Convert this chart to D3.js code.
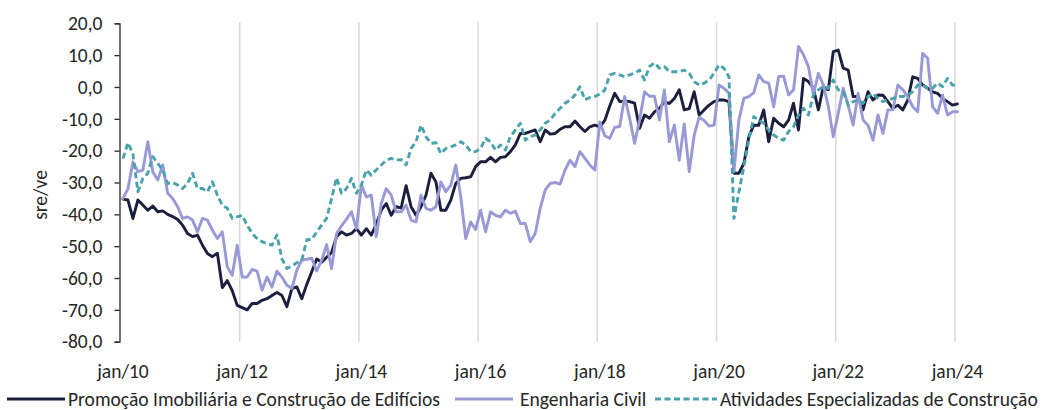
<!DOCTYPE html>
<html>
<head>
<meta charset="utf-8">
<script src="https://cdn.jsdelivr.net/npm/d3@7"></script>
<style>
  html, body { margin: 0; padding: 0; background: #fff; }
  svg { display: block; }
  text { font-family: Carlito, Lato, "Open Sans", sans-serif; fill: #262626; }
</style>
</head>
<body>
<svg id="chart" width="1044" height="410"></svg>
<script>
// ---------- DATA ----------
const startMonth = new Date(2010, 0, 1);
const endMonth = new Date(2024, 0, 1);
const tickLabels = ["jan/10", "jan/12", "jan/14", "jan/16", "jan/18", "jan/20", "jan/22", "jan/24"];
const yTicks = [-80, -70, -60, -50, -40, -30, -20, -10, 0, 10, 20];
const seriesNames = ["Promoção Imobiliária e Construção de Edifícios", "Engenharia Civil", "Atividades Especializadas de Construção"];

const promocao = [
  -35.2,-35.5,-41.3,-35.5,-37.1,-38.7,-37.4,-39.2,-38.9,-40.0,-40.7,-41.6,
  -43.4,-46.0,-47.0,-46.5,-49.7,-52.3,-53.3,-52.2,-63.0,-60.8,-64.0,-68.6,
  -69.3,-70.0,-68.0,-68.0,-67.0,-66.5,-65.5,-64.5,-65.5,-69.0,-63.3,-62.8,
  -66.5,-62.0,-58.0,-54.0,-55.0,-53.5,-52.0,-47.0,-45.5,-46.5,-46.0,-44.5,
  -46.5,-44.5,-46.5,-43.0,-38.7,-36.6,-40.3,-37.6,-38.0,-31.0,-37.6,-40.3,
  -37.6,-34.0,-27.1,-29.8,-38.7,-38.7,-35.5,-30.3,-28.7,-28.5,-28.2,-25.0,
  -23.5,-23.5,-22.1,-23.5,-22.1,-21.9,-20.3,-18.2,-14.6,-14.6,-14.0,-13.5,
  -17.2,-13.5,-14.8,-14.6,-13.3,-12.5,-12.5,-10.7,-12.5,-14.0,-12.5,-12.0,
  -12.5,-10.5,-6.0,-2.0,-4.6,-4.4,-4.6,-5.1,-13.0,-8.8,-9.8,-7.8,
  -6.7,-4.6,-5.2,-3.6,-0.9,-7.2,-6.8,-1.5,-8.8,-7.2,-5.7,-4.6,
  -4.1,-4.1,-4.6,-27.1,-27.1,-24.0,-15.6,-12.0,-12.0,-7.2,-17.2,-9.8,
  -11.4,-12.5,-10.4,-5.1,-13.5,2.7,1.7,-0.4,-7.2,0.1,-0.9,11.1,
  11.6,5.9,5.3,-3.0,-3.0,-7.2,-1.5,-4.1,-2.5,-2.6,-4.6,-6.7,
  -5.7,-7.2,-4.1,3.2,2.7,0.6,-0.4,-1.5,-2.0,-3.6,-4.6,-5.7,
  -5.3
];

const engenharia = [
  -35.0,-32.0,-23.5,-26.6,-26.1,-17.2,-26.6,-29.2,-24.5,-33.4,-35.0,-37.6,
  -41.3,-40.8,-41.8,-45.5,-41.3,-41.8,-45.0,-47.6,-45.5,-56.5,-59.1,-49.7,
  -59.7,-59.7,-57.3,-57.8,-63.8,-59.7,-62.8,-57.8,-59.7,-62.3,-63.3,-57.5,
  -54.4,-54.1,-53.8,-57.8,-54.4,-49.5,-57.0,-46.0,-43.6,-41.5,-39.2,-44.5,
  -30.8,-34.5,-34.0,-47.0,-36.6,-31.9,-34.0,-39.2,-39.2,-37.1,-41.8,-42.4,
  -34.0,-38.1,-38.7,-37.6,-29.8,-32.9,-30.8,-24.5,-34.5,-47.6,-42.4,-44.8,
  -38.7,-45.5,-39.2,-40.3,-40.8,-38.7,-39.7,-39.0,-42.9,-42.9,-48.6,-46.0,
  -38.1,-32.4,-30.3,-30.0,-30.5,-26.1,-23.0,-25.0,-20.3,-22.4,-24.5,-26.1,
  -11.0,-15.3,-16.1,-12.7,-12.4,-3.0,-9.8,-17.7,-10.4,-1.5,-2.9,-2.9,
  -10.4,-0.9,-17.2,-12.0,-23.0,-11.6,-26.6,-15.1,-9.5,-10.5,-12.3,-12.0,
  0.6,-0.4,-2.0,-26.6,-10.4,-3.6,-3.0,-1.8,3.8,1.7,1.2,-6.2,
  3.2,3.4,-2.5,-0.9,12.7,10.1,6.4,-2.5,4.3,0.6,-6.0,-15.6,
  -8.3,-0.4,-5.7,-12.0,-2.0,-10.4,-12.0,-16.7,-8.8,-14.6,-7.2,-7.2,
  0.6,-0.9,-3.0,-6.2,-7.8,10.6,9.0,-6.2,-8.3,-2.5,-8.8,-7.8,
  -7.8
];

const atividades = [
  -22.5,-17.5,-21.0,-32.9,-28.7,-27.1,-21.9,-24.0,-26.1,-30.3,-30.0,-30.8,
  -31.9,-30.3,-27.1,-31.9,-31.9,-32.9,-29.8,-34.0,-37.1,-38.1,-41.3,-40.8,
  -40.3,-43.4,-46.0,-47.6,-48.6,-49.2,-49.7,-46.5,-54.0,-57.0,-56.2,-55.2,
  -54.4,-48.0,-47.9,-45.5,-43.4,-41.3,-35.0,-28.5,-33.4,-31.9,-28.7,-33.4,
  -30.8,-26.1,-27.7,-26.0,-24.5,-23.0,-22.4,-22.9,-22.8,-24.5,-19.3,-17.2,
  -12.0,-15.6,-17.7,-17.5,-20.9,-19.3,-18.8,-18.2,-17.2,-18.2,-20.3,-20.3,
  -19.3,-16.1,-17.2,-19.8,-18.2,-19.8,-15.6,-13.5,-11.4,-16.7,-15.6,-15.1,
  -13.5,-11.4,-10.4,-8.3,-6.7,-5.1,-4.1,-2.5,0.1,-4.0,-3.3,-3.0,
  -2.2,-1.0,3.8,4.3,3.8,3.2,3.8,4.3,5.3,2.2,6.4,7.6,
  5.9,6.4,4.8,4.8,4.8,5.3,4.3,1.7,0.6,1.2,2.2,4.3,
  6.9,5.9,3.2,-41.3,-33.0,-25.0,-16.7,-9.3,-10.4,-11.4,-13.5,-15.1,
  -16.1,-16.7,-14.0,-12.5,-8.8,-6.7,-8.8,-2.5,-0.9,0.1,-0.4,2.2,
  -0.9,-1.5,-5.7,-4.6,-4.1,-5.1,-3.0,-2.0,-3.6,-4.6,-4.1,-3.6,
  -3.0,-3.0,-2.5,-1.5,0.6,0.6,-0.4,-0.4,1.2,0.1,2.7,0.6,
  0.6
];

// ---------- LAYOUT ----------
const months = d3.timeMonth.range(startMonth, d3.timeMonth.offset(endMonth, 1));
const n = months.length;
const plotLeft = 120.5, slot = 4.967;
const plotTop = 23.3, plotBottom = 341.7;
const colors = ["#1b1e3d", "#9999d6", "#4aa3ac"];

const svg = d3.select("#chart");
const x = d3.scaleLinear().domain([-0.5, n - 0.5]).range([plotLeft, plotLeft + n * slot]);
const y = d3.scaleLinear().domain([-80, 20]).range([plotBottom, plotTop]);

const loc = d3.formatLocale({decimal: ",", thousands: ".", grouping: [3], currency: ["", "€"], minus: "-"});
const fmt = loc.format(".1f");

// Jan positions (every 24 months)
const janIdx = tickLabels.map((_, k) => k * 24);

// vertical gridlines at category boundaries
svg.append("g").selectAll("line")
  .data(janIdx.filter(i => i > 0))
  .join("line")
  .attr("x1", i => x(i - 0.5)).attr("x2", i => x(i - 0.5))
  .attr("y1", plotTop - 1).attr("y2", plotBottom)
  .attr("stroke", "#d9d9d9").attr("stroke-width", 1.5);

// y axis
const yAxis = svg.append("g")
  .attr("transform", `translate(${plotLeft - 1},0)`)
  .call(d3.axisLeft(y).tickValues(yTicks).tickSize(5).tickPadding(12).tickFormat(fmt));
yAxis.select(".domain").attr("stroke", "#262626").attr("stroke-width", 1.3);
yAxis.selectAll(".tick line").attr("stroke", "#262626").attr("stroke-width", 1.3);
yAxis.selectAll(".tick text")
  .attr("font-size", 19.5).attr("fill", "#262626")
  .attr("font-family", "Carlito, Lato, 'Open Sans', sans-serif");

// y axis title
svg.append("text")
  .attr("transform", "translate(40,195) rotate(-90)")
  .attr("text-anchor", "middle").attr("dominant-baseline", "central")
  .attr("font-size", 19.5)
  .text("sre/ve");

// x tick labels
svg.append("g").selectAll("text")
  .data(janIdx)
  .join("text")
  .attr("x", i => x(i))
  .attr("y", 378)
  .attr("text-anchor", "middle")
  .attr("font-size", 19.5)
  .text((i, k) => tickLabels[k]);

// lines
const seriesData = [promocao, engenharia, atividades];
const line = d3.line().x((d, i) => x(i)).y(d => y(d));
seriesData.forEach((vals, s) => {
  svg.append("path")
    .datum(vals)
    .attr("fill", "none")
    .attr("stroke", colors[s])
    .attr("stroke-width", 2.9)
    .attr("stroke-linejoin", "round")
    .attr("stroke-linecap", s === 2 ? "butt" : "round")
    .attr("stroke-dasharray", s === 2 ? "6,3.5" : null)
    .attr("d", line);
});

// legend
const legendItems = [
  {x1: 7, x2: 65, tx: 68},
  {x1: 455, x2: 513, tx: 520},
  {x1: 655, x2: 717, tx: 720}
];
const legendY = 399;
const lg = svg.append("g");
legendItems.forEach((it, s) => {
  lg.append("line")
    .attr("x1", it.x1).attr("x2", it.x2)
    .attr("y1", legendY).attr("y2", legendY)
    .attr("stroke", colors[s]).attr("stroke-width", 2.9)
    .attr("stroke-dasharray", s === 2 ? "6,3.5" : null);
  lg.append("text")
    .attr("class", "legtext")
    .attr("x", it.tx).attr("y", legendY)
    .attr("dominant-baseline", "central")
    .attr("font-size", 18.5)
    .text(seriesNames[s]);
});
// fit legend font size to reference width of first item
const t0 = lg.select(".legtext").node();
const w0 = t0.getComputedTextLength();
const fs = 18.5 * 372 / w0;
lg.selectAll(".legtext").attr("font-size", Math.min(20, Math.max(15, fs)));
</script>
</body>
</html>
